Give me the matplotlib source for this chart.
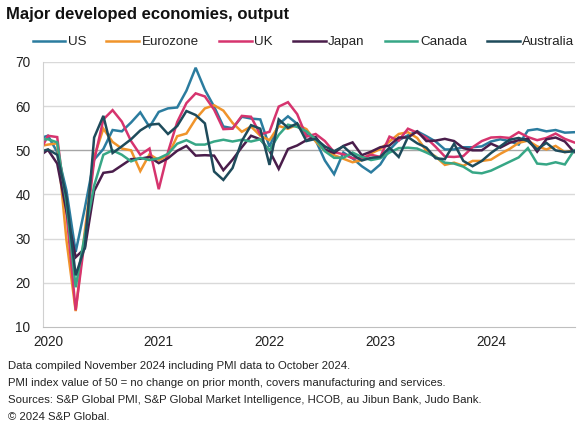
import matplotlib
matplotlib.use("Agg")
import matplotlib.pyplot as plt
import numpy as np

plt.rcParams['font.family'] = ['Liberation Sans', 'DejaVu Sans']

# Monthly composite PMI output, Dec 2019 .. Oct 2024
start_year, start_month = 2019, 12
years = [2020, 2021, 2022, 2023, 2024]

us = [52.7,
      53.3, 49.6, 40.9, 27.0, 37.0, 47.9, 50.3, 54.6, 54.3, 56.3, 58.6, 55.3,
      58.7, 59.5, 59.7, 63.5, 68.7, 63.7, 59.9, 55.4, 55.0, 57.6, 57.2, 57.0,
      50.8, 55.9, 57.7, 56.0, 53.6, 52.3, 47.7, 44.6, 49.5, 48.2, 46.4, 45.0,
      46.8, 50.1, 52.3, 53.4, 54.3, 53.2, 52.0, 50.2, 50.2, 50.7, 50.7, 50.9,
      52.0, 52.5, 52.1, 51.3, 54.5, 54.8, 54.3, 54.6, 54.0, 54.1]
eurozone = [50.9,
      51.3, 51.6, 29.7, 13.6, 31.9, 48.5, 54.9, 51.9, 50.4, 50.0, 45.3, 49.1,
      47.8, 48.8, 53.2, 53.8, 57.1, 59.5, 60.2, 59.0, 56.2, 54.2, 55.4, 53.3,
      52.3, 55.5, 54.9, 55.8, 54.8, 52.0, 49.9, 48.9, 48.1, 47.3, 47.8, 49.3,
      50.3, 52.0, 53.7, 54.1, 52.8, 49.9, 48.6, 46.7, 47.2, 46.5, 47.6, 47.6,
      47.9, 49.2, 50.3, 51.7, 52.2, 50.9, 50.2, 51.0, 49.6, 50.0]
uk = [49.3,
      53.3, 53.0, 36.0, 13.8, 30.0, 47.7, 57.0, 59.1, 56.5, 52.1, 49.0, 50.4,
      41.2, 49.6, 56.4, 60.7, 62.9, 62.2, 59.2, 54.8, 54.9, 57.8, 57.6, 53.6,
      54.2, 59.9, 60.9, 58.2, 53.1, 53.7, 52.1, 49.6, 49.1, 48.2, 48.2, 49.0,
      48.5, 53.1, 52.2, 54.9, 54.0, 52.8, 50.8, 48.6, 48.5, 48.7, 50.7, 52.1,
      52.9, 53.0, 52.8, 54.1, 53.0, 52.3, 52.8, 53.8, 52.6, 51.8]
japan = [48.6,
      50.1, 47.0, 36.2, 25.8, 27.8, 40.8, 44.9, 45.2, 46.6, 48.0, 48.1, 48.5,
      47.1, 48.2, 49.9, 51.0, 48.8, 48.9, 48.8, 45.5, 47.9, 50.7, 53.3, 52.5,
      49.9, 45.8, 50.3, 51.1, 52.3, 53.0, 50.2, 49.4, 51.0, 51.8, 48.9, 49.7,
      50.7, 51.1, 52.9, 52.9, 54.3, 52.1, 52.2, 52.6, 52.1, 50.5, 50.0, 50.0,
      51.5, 50.6, 51.7, 52.3, 52.6, 49.7, 52.5, 52.9, 52.0, 49.6]
canada = [52.5,
      52.5, 51.8, 38.0, 19.0, 31.0, 42.0, 49.0, 50.0, 49.0, 47.5, 48.3, 47.8,
      48.2, 49.2, 51.5, 52.3, 51.3, 51.3, 52.0, 52.4, 52.0, 52.4, 52.0, 52.5,
      50.0, 53.5, 55.8, 55.3, 54.3, 52.5, 49.8, 48.3, 48.3, 49.5, 48.5, 47.8,
      48.2, 49.5, 50.5, 50.6, 50.4, 49.5, 48.5, 47.2, 47.0, 46.3, 45.0, 44.8,
      45.4, 46.4, 47.4, 48.4, 50.5, 47.0, 46.8, 47.3, 46.8, 50.0]
australia = [49.6,
      50.2, 49.0, 39.4, 21.7, 28.1, 52.9, 57.8, 49.4, 50.9, 52.5, 54.5, 55.8,
      56.0, 53.7, 55.5, 58.9, 58.0, 56.1, 45.2, 43.3, 46.0, 52.1, 55.7, 54.9,
      46.7, 57.0, 55.1, 56.1, 52.1, 52.6, 50.9, 49.8, 50.9, 49.0, 47.7, 48.3,
      48.5, 50.6, 48.5, 53.0, 51.6, 50.6, 48.2, 48.0, 51.5, 47.6, 46.4, 47.6,
      49.4, 50.9, 52.4, 52.8, 52.1, 50.2, 51.7, 50.0, 49.6, 49.8]

series_names = ["US", "Eurozone", "UK", "Japan", "Canada", "Australia"]
series_vals = [us, eurozone, uk, japan, canada, australia]
colors = ["#2b7c9f", "#f0942b", "#d6346e", "#4a1d4b", "#37a786", "#1e4b5b"]

title = "Major developed economies, output"
notes = ["Data compiled November 2024 including PMI data to October 2024.",
         "PMI index value of 50 = no change on prior month, covers manufacturing and services.",
         "Sources: S&P Global PMI, S&P Global Market Intelligence, HCOB, au Jibun Bank, Judo Bank.",
         "\u00a9 2024 S&P Global."]

W, H = 587, 426
fig = plt.figure(figsize=(W / 100, H / 100), dpi=100)
ax = fig.add_axes([43 / W, 1 - 327 / H, (575 - 43) / W, (327 - 62) / H])

n = len(us)
x = np.arange(n) - 1  # month index, Jan 2020 = 0

for name, vals, c in zip(series_names, series_vals, colors):
    ax.plot(x, vals, color=c, lw=1.8, label=name, solid_joinstyle='miter')

ax.set_xlim(-0.54, 57.1)
ax.set_ylim(10, 70)
ax.set_yticks(range(10, 71, 10))
ax.set_xticks([(y - 2020) * 12 for y in years])
ax.set_xticklabels([str(y) for y in years])
for yv in range(20, 71, 10):
    ax.axhline(yv, color="#a6a6a6" if yv == 50 else "#d9d9d9", lw=1.0, zorder=0)
for s in ["top", "right"]:
    ax.spines[s].set_visible(False)
ax.spines["left"].set_color("#d0d0d0")
ax.spines["bottom"].set_color("#bfbfbf")
ax.tick_params(axis="both", length=0, labelsize=9.8, colors="#222222")
ax.tick_params(axis="y", pad=9)
ax.tick_params(axis="x", pad=6)

fig.text(6 / W, 1 - 14 / H, title, fontsize=12, fontweight="bold", va="center", ha="left", color="#111111")

leg = fig.legend(loc="center", bbox_to_anchor=(303.5 / W, 1 - 42 / H), ncol=6, frameon=False,
                 fontsize=9.6, handlelength=2.45, handletextpad=0.2, columnspacing=1.5,
                 borderaxespad=0, borderpad=0)
for t in leg.get_texts():
    t.set_color("#222222")

for i, line in enumerate(notes):
    fig.text(8 / W, 1 - (366 + 17 * i) / H, line, fontsize=8.2, va="center", ha="left", color="#222222")

fig.savefig("out.png", dpi=100)
